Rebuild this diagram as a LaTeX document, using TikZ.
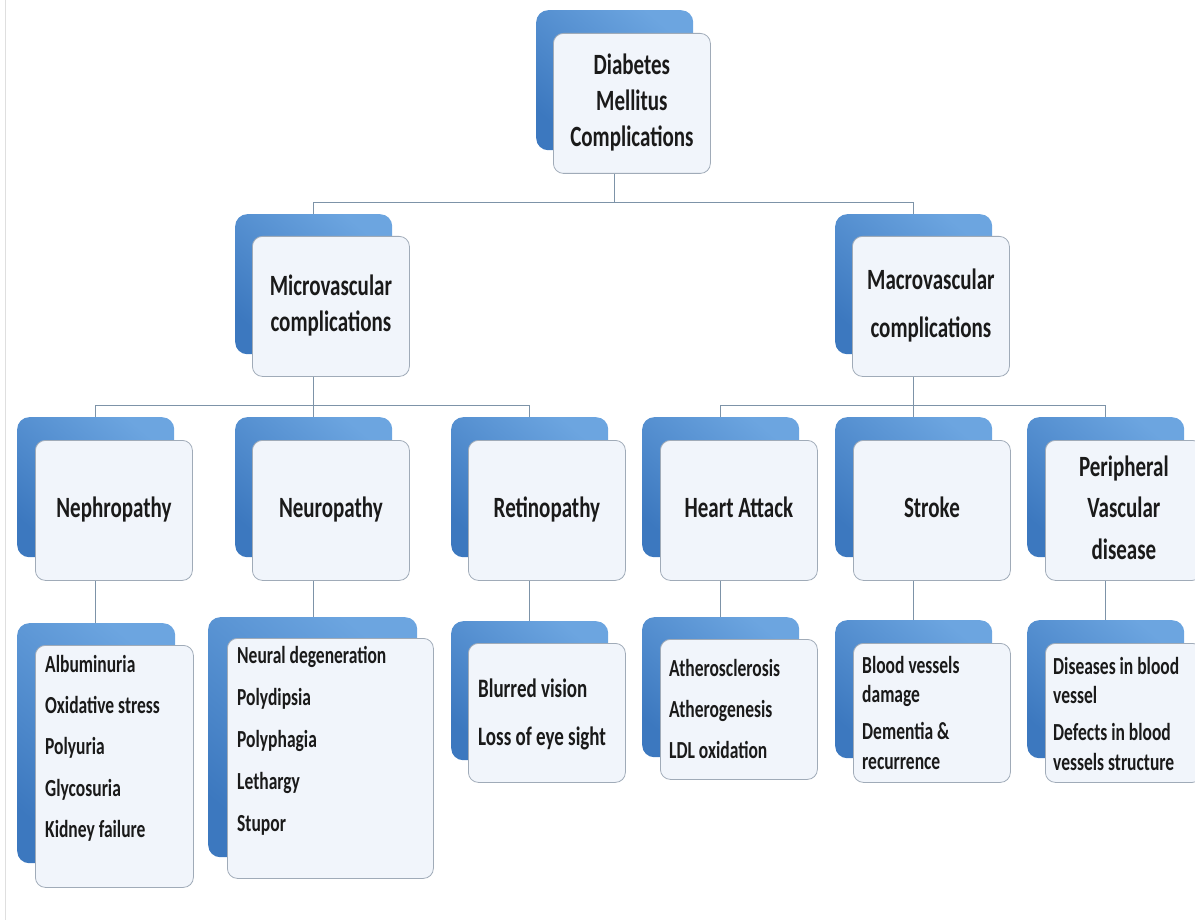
\documentclass[tikz,border=0pt]{standalone}
\usepackage{fontspec}
\setmainfont{Carlito}
\usepackage{graphicx}
\usetikzlibrary{backgrounds,positioning}
\definecolor{BoxBlueLight}{HTML}{6CA5E0}
\definecolor{BoxBlueDark}{HTML}{3C78BF}
\definecolor{FrontFill}{HTML}{F1F5FB}
\definecolor{FrontLine}{HTML}{A0ABB8}
\definecolor{LineGray}{HTML}{7D93A8}
\definecolor{TextDark}{HTML}{1A1A1A}

\newcommand{\ttl}[1]{\scalebox{1}[1.4]{\begin{tabular}{@{}c@{}}#1\end{tabular}}}
\newcommand{\lst}[1]{\scalebox{1}[1.4]{\begin{tabular}[t]{@{}l@{}}#1\end{tabular}}}

\tikzset{
  backbox/.style={anchor=north west, inner sep=0pt, rounded corners=12pt,
    top color=BoxBlueLight, bottom color=BoxBlueDark, shading angle=-40,
    minimum width=157pt, minimum height=140pt},
  frontbox/.style={anchor=north west, inner sep=0pt, rounded corners=10pt,
    draw=FrontLine, line width=0.8pt, fill=FrontFill, text=TextDark,
    minimum width=157pt, minimum height=140pt,
    font=\fontsize{21}{25.6}\selectfont\bfseries},
  listtxt/.style={anchor=base west, inner sep=0pt, text=TextDark,
    font=\fontsize{17.5}{29.6}\selectfont\bfseries},
  conn/.style={draw=LineGray, line width=0.8pt}
}

\begin{document}
\begin{tikzpicture}[x=1pt, y=-1pt]
  \useasboundingbox (0,0) rectangle (1195,920);
  \clip (0,0) rectangle (1195,920);
  \draw[gray!25, line width=0.8pt] (5,0) -- (5,920);

  % root
  \node[backbox] (dm-b) at (536,10) {};
  \node[frontbox] (dm) at (553,33) {\ttl{Diabetes\\Mellitus\\Complications}};

  % second level
  \node[backbox] (micro-b) at (235,214) {};
  \node[frontbox] (micro) at (252,236) {\ttl{Microvascular\\complications}};
  \node[backbox] (macro-b) at (835,214) {};
  \node[frontbox] (macro) at (852,236) {\ttl{Macrovascular\\[9pt]complications}};

  % third level
  \node[backbox] (neph-b) at (17,417) {};
  \node[frontbox] (neph) at (35,440) {\ttl{Nephropathy}};
  \node[backbox] (neuro-b) at (235,417) {};
  \node[frontbox] (neuro) at (252,440) {\ttl{Neuropathy}};
  \node[backbox] (retino-b) at (451,417) {};
  \node[frontbox] (retino) at (468,440) {\ttl{Retinopathy}};
  \node[backbox] (heart-b) at (642,417) {};
  \node[frontbox] (heart) at (660,440) {\ttl{Heart Attack}};
  \node[backbox] (stroke-b) at (835,417) {};
  \node[frontbox] (stroke) at (853,440) {\ttl{Stroke}};
  \node[backbox] (periph-b) at (1027,417) {};
  \node[frontbox] (periph) at (1045,440) {\ttl{Peripheral\\[4pt]Vascular\\[4pt]disease}};

  % symptom lists
  \node[backbox, minimum width=158pt, minimum height=240pt] (neph-lb) at (17,623) {};
  \node[frontbox, minimum width=158pt, minimum height=242pt] (neph-l) at (35,645) {};
  \node[listtxt] (neph-lt) at (45,672)
    {\lst{Albuminuria\\Oxidative stress\\Polyuria\\Glycosuria\\Kidney failure}};

  \node[backbox, minimum width=209pt, minimum height=240pt] (neuro-lb) at (208,617) {};
  \node[frontbox, minimum width=206pt, minimum height=240pt] (neuro-l) at (227,638) {};
  \node[listtxt, font=\fontsize{17.5}{30}\selectfont\bfseries] (neuro-lt) at (237,663)
    {\lst{Neural degeneration\\Polydipsia\\Polyphagia\\Lethargy\\Stupor}};

  \node[backbox, minimum height=139pt] (retino-lb) at (451,621) {};
  \node[frontbox, minimum height=139pt] (retino-l) at (468,643) {};
  \node[listtxt, font=\fontsize{19}{34.3}\selectfont\bfseries] (retino-lt) at (478,697)
    {\lst{Blurred vision\\Loss of eye sight}};

  \node[backbox] (heart-lb) at (642,617) {};
  \node[frontbox] (heart-l) at (660,639) {};
  \node[listtxt, font=\fontsize{17.5}{29.3}\selectfont\bfseries] (heart-lt) at (669,676)
    {\lst{Atherosclerosis\\Atherogenesis\\LDL oxidation}};

  \node[backbox, minimum height=138pt] (stroke-lb) at (835,620) {};
  \node[frontbox, minimum height=139pt] (stroke-l) at (853,643) {};
  \node[listtxt, font=\fontsize{17.5}{21.4}\selectfont\bfseries] (stroke-lt) at (862,673)
    {\lst{Blood vessels\\damage\\[5pt]Dementia \&\\recurrence}};

  \node[backbox, minimum height=138pt] (periph-lb) at (1027,620) {};
  \node[frontbox, minimum height=139pt] (periph-l) at (1045,643) {};
  \node[listtxt, font=\fontsize{17.5}{21.4}\selectfont\bfseries] (periph-lt) at (1053,674)
    {\lst{Diseases in blood\\vessel\\[5pt]Defects in blood\\vessels structure}};

  % connectors
  \begin{scope}[on background layer]
    \coordinate (bus1) at (0,202);
    \coordinate (bus2) at (0,405);
    \draw[conn] (dm-b.center) -- (dm-b.center |- bus1) -| (micro-b.north);
    \draw[conn] (dm-b.center |- bus1) -| (macro-b.north);
    \draw[conn] (micro-b.center) -- (micro-b.center |- bus2);
    \draw[conn] (macro-b.center) -- (macro-b.center |- bus2);
    \foreach \c in {neph,neuro,retino}
      \draw[conn] (micro-b.center |- bus2) -| (\c-b.north);
    \foreach \c in {heart,stroke,periph}
      \draw[conn] (macro-b.center |- bus2) -| (\c-b.north);
    \foreach \c in {neph,neuro,retino,heart,stroke,periph}
      \draw[conn] (\c-b.center) -- (\c-b.center |- \c-lb.north);
  \end{scope}
\end{tikzpicture}
\end{document}
